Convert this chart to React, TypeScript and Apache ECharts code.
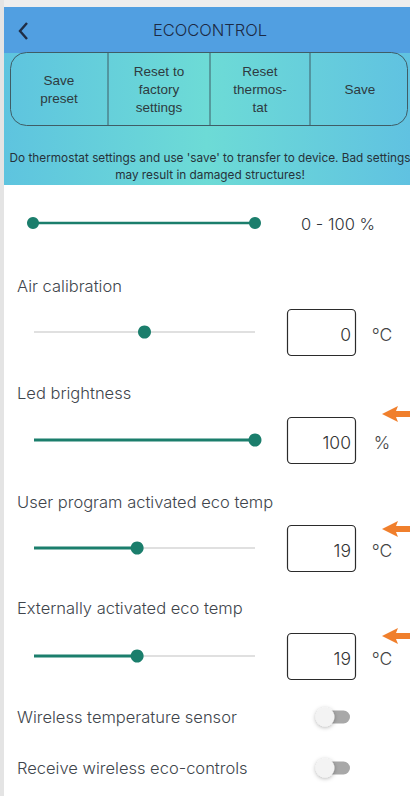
import React, { useEffect, useRef } from "react";
import * as echarts from "echarts";

const headerTitle = "ECOCONTROL";
const buttonLabels = ["Save\npreset", "Reset to\nfactory\nsettings", "Reset\nthermos-\ntat", "Save"];
const noticeLines = [
  "Do thermostat settings and use 'save' to transfer to device. Bad settings",
  "may result in damaged structures!",
];
const rangeLimits = [0, 100];
const rangeValues = [0, 100];
const rangeLabel = "0 - 100 %";
const sliderLabels = [
  "Air calibration",
  "Led brightness",
  "User program activated eco temp",
  "Externally activated eco temp",
];
const sliderMins = [-5, 0, 5, 5];
const sliderMaxs = [5, 100, 35, 35];
const sliderValues = [0, 100, 19, 19];
const sliderUnits = ["°C", "%", "°C", "°C"];
const sliderFlagged = [false, true, true, true];
const toggleLabels = ["Wireless temperature sensor", "Receive wireless eco-controls"];
const toggleStates = [false, false];

// layout (pixels)
const TEAL = "#1b7e6c";
const TRACK = "#e0e0e0";
const TEXT = "#40454c";
const FONT = "Inter, 'Noto Sans', sans-serif";
const BTN_FONT = "'Liberation Sans', Arial, sans-serif";
const sliderLabelY = [286, 393, 502, 608];
const sliderTrackY = [332, 440, 548, 656];
const arrowY = [0, 414, 529, 636];
const toggleY = [717, 768];
const buttonCenters = [59, 159, 260, 360];
const dividerX = [108, 210, 310];

export default function App() {
  const ref = useRef<HTMLDivElement>(null);
  useEffect(() => {
    document.body.style.margin = "0";
    const chart = echarts.init(ref.current!, null, { renderer: "svg" });

    const grids: any[] = [];
    const xAxes: any[] = [];
    const yAxes: any[] = [];
    const series: any[] = [];

    // range slider
    grids.push({ left: 33, top: 213, width: 222, height: 20 });
    xAxes.push({ type: "value", gridIndex: 0, min: rangeLimits[0], max: rangeLimits[1], show: false });
    yAxes.push({ type: "value", gridIndex: 0, min: -1, max: 1, show: false });
    series.push({
      type: "line", xAxisIndex: 0, yAxisIndex: 0, symbol: "none", silent: true, z: 2,
      lineStyle: { color: TEAL, width: 2.5 },
      data: [[rangeValues[0], 0], [rangeValues[1], 0]],
    });
    series.push({
      type: "scatter", xAxisIndex: 0, yAxisIndex: 0, symbolSize: 12, silent: true, z: 10,
      itemStyle: { color: TEAL, opacity: 1 },
      data: rangeValues.map((v) => [v, 0]),
    });

    sliderValues.forEach((v, i) => {
      const gi = i + 1;
      const min = sliderMins[i];
      const max = sliderMaxs[i];
      const origin = min < 0 ? 0 : min;
      grids.push({ left: 34, top: sliderTrackY[i] - 10, width: 221, height: 20 });
      xAxes.push({ type: "value", gridIndex: gi, min, max, show: false });
      yAxes.push({ type: "value", gridIndex: gi, min: -1, max: 1, show: false });
      series.push({
        type: "line", xAxisIndex: gi, yAxisIndex: gi, symbol: "none", silent: true, z: 1,
        lineStyle: { color: TRACK, width: 2 },
        data: [[min, 0], [max, 0]],
      });
      series.push({
        type: "line", xAxisIndex: gi, yAxisIndex: gi, symbol: "none", silent: true, z: 2,
        lineStyle: { color: TEAL, width: 3 },
        data: [[origin, 0], [v, 0]],
      });
      series.push({
        type: "scatter", xAxisIndex: gi, yAxisIndex: gi, symbolSize: 13, silent: true, z: 10,
        itemStyle: { color: TEAL, opacity: 1 },
        data: [[v, 0]],
      });
    });

    const g: any[] = [];
    // frame
    g.push({ type: "rect", shape: { x: 0, y: 0, width: 410, height: 796 }, style: { fill: "#ffffff" }, z: -10 });
    g.push({ type: "rect", shape: { x: 0, y: 0, width: 410, height: 7 }, style: { fill: "#eeeeee" } });
    g.push({ type: "rect", shape: { x: 0, y: 0, width: 4, height: 796 }, style: { fill: "#e4e4e4" } });
    // header
    g.push({ type: "rect", shape: { x: 4, y: 7, width: 406, height: 46 }, style: { fill: "#519fe1" } });
    g.push({
      type: "polyline", shape: { points: [[27, 23], [20, 31], [27, 39]] },
      style: { stroke: "#1f2d45", lineWidth: 2.4, fill: null },
    });
    g.push({
      type: "text", style: { text: headerTitle, x: 210, y: 30, textAlign: "center", textVerticalAlign: "middle", font: `300 16.5px ${FONT}`, fill: "#1c2a44" },
    });
    // teal band
    g.push({
      type: "rect", shape: { x: 4, y: 53, width: 406, height: 132 },
      style: {
        fill: new echarts.graphic.LinearGradient(0, 0, 1, 0, [
          { offset: 0, color: "#5ec4df" },
          { offset: 0.5, color: "#6ddbd6" },
          { offset: 1, color: "#60c2e1" },
        ]),
      },
    });
    g.push({
      type: "rect", shape: { x: 10.5, y: 52.5, width: 397, height: 73, r: 16 },
      style: { fill: null, stroke: "#3f5d66", lineWidth: 1 },
    });
    dividerX.forEach((x) => {
      g.push({ type: "line", shape: { x1: x, y1: 53, x2: x, y2: 125 }, style: { stroke: "#3f5d66", lineWidth: 1 } });
    });
    buttonLabels.forEach((t, i) => {
      g.push({
        type: "text",
        style: { text: t, x: buttonCenters[i], y: 89, textAlign: "center", textVerticalAlign: "middle", font: `13.5px ${BTN_FONT}`, fill: "#2e3a40", lineHeight: 18 },
      });
    });
    noticeLines.forEach((t, i) => {
      g.push({
        type: "text",
        style: { text: t, x: 210, y: 158 + i * 17, textAlign: "center", textVerticalAlign: "middle", font: `11.8px ${FONT}`, fill: "#26323a" },
      });
    });
    // range label
    g.push({
      type: "text", style: { text: rangeLabel, x: 338, y: 224, textAlign: "center", textVerticalAlign: "middle", font: `300 16.5px ${FONT}`, fill: "#2f343a" },
    });
    // sliders labels / boxes
    sliderLabels.forEach((t, i) => {
      g.push({
        type: "text", style: { text: t, x: 17, y: sliderLabelY[i], textAlign: "left", textVerticalAlign: "middle", font: `300 16.5px ${FONT}`, fill: TEXT },
      });
      const ty = sliderTrackY[i];
      g.push({
        type: "rect", shape: { x: 287.5, y: ty - 22.5, width: 68, height: 46, r: 4 },
        style: { fill: "#ffffff", stroke: "#2b2b2b", lineWidth: 1.2 },
      });
      g.push({
        type: "text", style: { text: String(sliderValues[i]), x: 351, y: ty + 2, textAlign: "right", textVerticalAlign: "middle", font: `300 17.5px ${FONT}`, fill: "#333" },
      });
      g.push({
        type: "text", style: { text: sliderUnits[i], x: 382, y: ty + 2, textAlign: "center", textVerticalAlign: "middle", font: `300 17.5px ${FONT}`, fill: "#444" },
      });
      if (sliderFlagged[i]) {
        const ay = arrowY[i];
        g.push({
          type: "polygon",
          shape: { points: [[382, ay], [398, ay - 8], [396, ay - 3], [410, ay - 3], [410, ay + 3], [396, ay + 3], [398, ay + 8]] },
          style: { fill: "#f07f2c" },
        });
      }
    });
    // toggles
    toggleLabels.forEach((t, i) => {
      const y = toggleY[i];
      g.push({
        type: "text", style: { text: t, x: 17, y, textAlign: "left", textVerticalAlign: "middle", font: `300 16.5px ${FONT}`, fill: TEXT },
      });
      g.push({
        type: "rect", shape: { x: 322, y: y - 6.5, width: 28, height: 13, r: 6.5 },
        style: { fill: toggleStates[i] ? TEAL : "#a8a8a8" },
      });
      g.push({
        type: "circle", shape: { cx: toggleStates[i] ? 340 : 325, cy: y, r: 9.5 },
        style: { fill: "#f3f3f3", shadowBlur: 4, shadowColor: "rgba(0,0,0,0.3)", shadowOffsetY: 1 },
      });
    });

    chart.setOption({
      animation: false,
      grid: grids,
      xAxis: xAxes,
      yAxis: yAxes,
      series,
      graphic: { elements: g },
    });
    return () => chart.dispose();
  }, []);
  return <div ref={ref} style={{ position: "absolute", left: 0, top: 0, width: 410, height: 796 }} />;
}
